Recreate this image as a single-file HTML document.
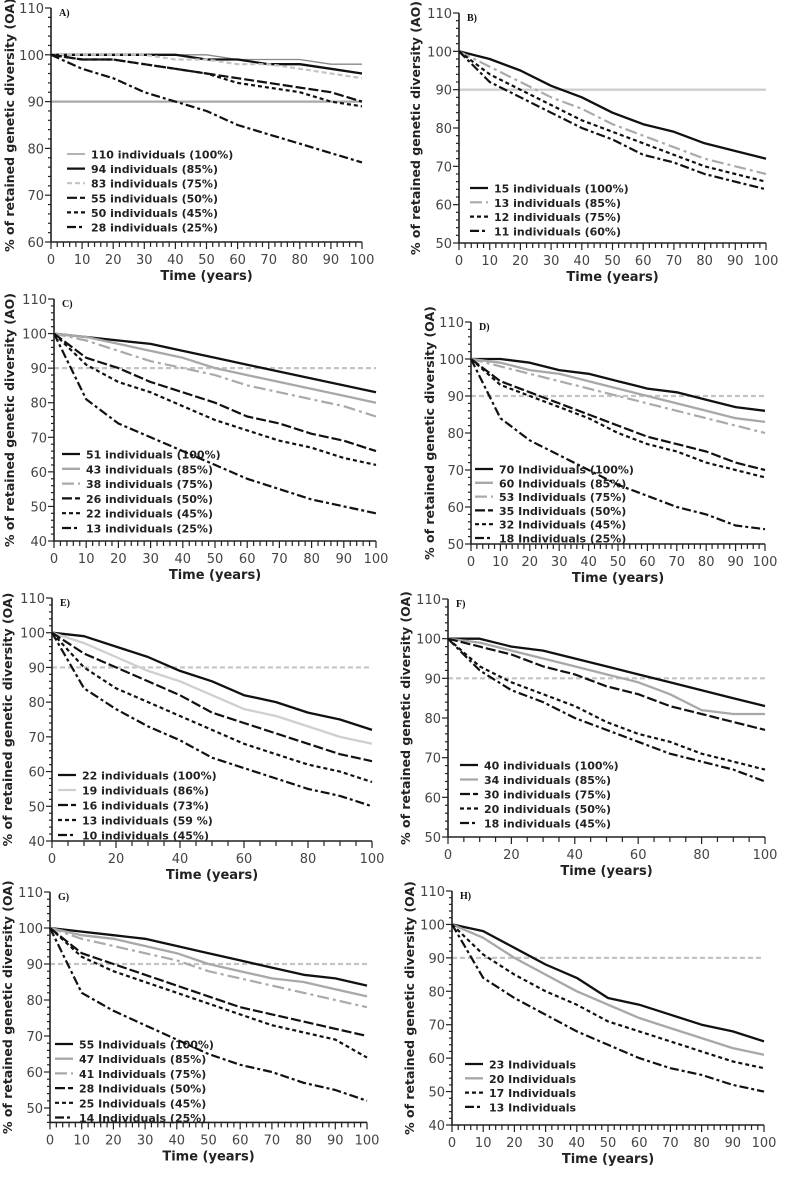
<!DOCTYPE html>
<html><head><meta charset="utf-8"><style>
html,body{margin:0;padding:0;background:#fff;}
svg{display:block;}
</style></head><body>
<svg id="fig" width="787" height="1178" viewBox="0 0 787 1178" xmlns="http://www.w3.org/2000/svg"></svg>
<script>
const years = [0,10,20,30,40,50,60,70,80,90,100];
// Panel A
const aLabels = ["110 individuals (100%)","94 individuals (85%)","83 individuals (75%)","55 individuals (50%)","50 individuals (45%)","28 individuals (25%)"];
const aS1 = [100,100,100,100,100,100,99,99,99,98,98];
const aS2 = [100,100,100,100,100,99,99,98,98,97,96];
const aS3 = [100,100,100,100,99,99,98,98,97,96,95];
const aS4 = [100,99,99,98,97,96,95,94,93,92,90];
const aS5 = [100,99,99,98,97,96,94,93,92,90,89];
const aS6 = [100,97,95,92,90,88,85,83,81,79,77];
// Panel B
const bLabels = ["15 individuals (100%)","13 individuals (85%)","12 individuals (75%)","11 individuals (60%)"];
const bS1 = [100,98,95,91,88,84,81,79,76,74,72];
const bS2 = [100,96,92,88,85,81,78,75,72,70,68];
const bS3 = [100,94,90,86,82,79,76,73,70,68,66];
const bS4 = [100,92,88,84,80,77,73,71,68,66,64];
// Panel C
const cLabels = ["51 individuals (100%)","43 individuals (85%)","38 individuals (75%)","26 individuals (50%)","22 individuals (45%)","13 individuals (25%)"];
const cS1 = [100,99,98,97,95,93,91,89,87,85,83];
const cS2 = [100,99,97,95,93,90,88,86,84,82,80];
const cS3 = [100,98,95,92,90,88,85,83,81,79,76];
const cS4 = [100,93,90,86,83,80,76,74,71,69,66];
const cS5 = [100,91,86,83,79,75,72,69,67,64,62];
const cS6 = [100,81,74,70,66,62,58,55,52,50,48];
// Panel D
const dLabels = ["70 Individuals (100%)","60 Individuals (85%)","53 Individuals (75%)","35 Individuals (50%)","32 Individuals (45%)","18 Individuals (25%)"];
const dS1 = [100,100,99,97,96,94,92,91,89,87,86];
const dS2 = [100,99,97,96,94,92,90,88,86,84,83];
const dS3 = [100,98,96,94,92,90,88,86,84,82,80];
const dS4 = [100,94,91,88,85,82,79,77,75,72,70];
const dS5 = [100,93,90,87,84,80,77,75,72,70,68];
const dS6 = [100,84,78,74,70,66,63,60,58,55,54];
// Panel E
const eLabels = ["22 individuals (100%)","19 individuals (86%)","16 individuals (73%)","13 individuals (59 %)","10 individuals (45%)"];
const eS1 = [100,99,96,93,89,86,82,80,77,75,72];
const eS2 = [100,97,93,89,86,82,78,76,73,70,68];
const eS3 = [100,94,90,86,82,77,74,71,68,65,63];
const eS4 = [100,90,84,80,76,72,68,65,62,60,57];
const eS5 = [100,84,78,73,69,64,61,58,55,53,50];
// Panel F
const fLabels = ["40 individuals (100%)","34 individuals (85%)","30 individuals (75%)","20 individuals (50%)","18 individuals (45%)"];
const fS1 = [100,100,98,97,95,93,91,89,87,85,83];
const fS2 = [100,99,97,95,93,91,89,86,82,81,81];
const fS3 = [100,98,96,93,91,88,86,83,81,79,77];
const fS4 = [100,93,89,86,83,79,76,74,71,69,67];
const fS5 = [100,92,87,84,80,77,74,71,69,67,64];
// Panel G
const gLabels = ["55 Individuals (100%)","47 Individuals (85%)","41 Individuals (75%)","28 Individuals (50%)","25 Individuals (45%)","14 Individuals (25%)"];
const gS1 = [100,99,98,97,95,93,91,89,87,86,84];
const gS2 = [100,98,97,95,93,90,88,86,85,83,81];
const gS3 = [100,97,95,93,91,88,86,84,82,80,78];
const gS4 = [100,93,90,87,84,81,78,76,74,72,70];
const gS5 = [100,92,88,85,82,79,76,73,71,69,64];
const gS6 = [100,82,77,73,69,65,62,60,57,55,52];
// Panel H
const hLabels = ["23 Individuals","20 Individuals","17 Individuals","13 Individuals"];
const hS1 = [100,98,93,88,84,78,76,73,70,68,65];
const hS2 = [100,96,90,85,80,76,72,69,66,63,61];
const hS3 = [100,91,85,80,76,71,68,65,62,59,57];
const hS4 = [100,84,78,73,68,64,60,57,55,52,50];

const STY = {
  thin:{c:'#888',w:1.3,d:''},
  solid:{c:'#111',w:2.3,d:''},
  gray:{c:'#a8a8a8',w:2.3,d:''},
  lgray:{c:'#cfcfcf',w:2.3,d:''},
  lgdash:{c:'#c4c4c4',w:2.2,d:'5,3'},
  gdash:{c:'#aaa',w:2.2,d:'12,4,3,4'},
  long:{c:'#111',w:2.2,d:'10,3'},
  short:{c:'#111',w:2.2,d:'4,3'},
  dashdot:{c:'#111',w:2.2,d:'9,3,3,3'}
};
const NS='http://www.w3.org/2000/svg';
const svg=document.getElementById('fig');
function mk(tag,attrs,parent){const e=document.createElementNS(NS,tag);for(const k in attrs)e.setAttribute(k,attrs[k]);(parent||svg).appendChild(e);return e;}

function panel(p){
  const g=mk('g',{});
  
  
  const yTopPx=p.yTop, unit=(p.yRef-p.yTop)/(110-p.refVal);
  const sy=v=>yTopPx+(110-v)*unit;
  const sx=v=>p.x0+(p.x1-p.x0)*v/100;
  const yBot=sy(p.ymin);
  const h=STY[p.hline];
  const hl=mk('line',{x1:sx(0),x2:sx(100),y1:sy(90),y2:sy(90),stroke:h.c,'stroke-width':h.w,'stroke-dasharray':h.d},g);
  
  
  const ax=mk('path',{d:`M${p.x0},${sy(110)}V${yBot}H${p.x1}`,stroke:'#222','stroke-width':1.6,fill:'none'},g);
  
  
  for(let v=p.ymin;v<=110;v+=2){
    const major=v%10===0;
    mk('line',{x1:p.x0,x2:p.x0-(major?6:3),y1:sy(v),y2:sy(v),stroke:'#222','stroke-width':1.2},g);
    if(major){const t=mk('text',{x:p.x0-7,y:sy(v)+5,'text-anchor':'end','font-family':'DejaVu Sans, sans-serif','font-size':13,fill:'#444'},g);t.textContent=v;
      
      }
  }
  for(let v=0;v<=100;v+=p.xMinor){
    const major=v%p.xStep===0;
    mk('line',{x1:sx(v),x2:sx(v),y1:yBot,y2:yBot+(major?7:5),stroke:'#222','stroke-width':1.2},g);
    if(major){const t=mk('text',{x:sx(v),y:yBot+22,'text-anchor':'middle','font-family':'DejaVu Sans, sans-serif','font-size':13,fill:'#444'},g);t.textContent=v;
      
      }
  }
  const xt=mk('text',{x:(p.x0+p.x1)/2,y:yBot+38,'text-anchor':'middle','font-family':'DejaVu Sans, sans-serif','font-weight':'bold','font-size':13,fill:'#222'},g);
  xt.textContent='Time (years)';
  
  
  const yc=(sy(110)+yBot)/2;
  const yt=mk('text',{x:0,y:0,transform:`translate(${p.yl},${yc}) rotate(-90)`,'text-anchor':'middle','font-family':'DejaVu Sans, sans-serif','font-weight':'bold','font-size':12.5,fill:'#222'},g);
  yt.textContent='% of retained genetic diversity ('+p.unit+')';
  
  
  const lt=mk('text',{x:p.x0+8,y:sy(110)+8,'font-family':'Liberation Serif, serif','font-weight':'bold','font-size':10,fill:'#111'},g);
  lt.textContent=p.id+')';
  
  
  p.series.forEach((s,i)=>{
    const st=STY[p.styles[i]];
    const d=years.map((x,j)=>(j?'L':'M')+sx(x).toFixed(1)+','+sy(s[j]).toFixed(1)).join('');
    const path=mk('path',{d:d,fill:'none',stroke:st.c,'stroke-width':st.w,'stroke-dasharray':st.d,'stroke-linejoin':'round'},g);
    
    
    const ly=p.lgY+i*p.lgStep;
    const ll=mk('line',{x1:p.lgX,x2:p.lgX+18,y1:ly,y2:ly,stroke:st.c,'stroke-width':st.w,'stroke-dasharray':st.d},g);
    
    
    const tx=mk('text',{x:p.lgX+24,y:ly+4.5,'font-family':'DejaVu Sans, sans-serif','font-weight':'bold','font-size':11,fill:'#222'},g);
    tx.textContent=p.labels[i];
    
    
  });
}

panel({id:'A',unit:'OA',x0:51,x1:362,yTop:8,yRef:242,refVal:60,ymin:60,xStep:10,xMinor:2,hline:'gray',yl:14,
  series:[aS1,aS2,aS3,aS4,aS5,aS6],labels:aLabels,styles:['thin','solid','lgdash','long','short','dashdot'],lgX:67,lgY:154,lgStep:14.6});
panel({id:'B',unit:'AO',x0:459,x1:766,yTop:13,yRef:243,refVal:50,ymin:50,xStep:10,xMinor:2,hline:'lgray',yl:420,
  series:[bS1,bS2,bS3,bS4],labels:bLabels,styles:['solid','gdash','short','dashdot'],lgX:470,lgY:188,lgStep:14.3});
panel({id:'C',unit:'AO',x0:54,x1:376,yTop:299,yRef:541,refVal:40,ymin:40,xStep:10,xMinor:2,hline:'lgdash',yl:14,
  series:[cS1,cS2,cS3,cS4,cS5,cS6],labels:cLabels,styles:['solid','gray','gdash','long','short','dashdot'],lgX:62,lgY:454,lgStep:14.8});
panel({id:'D',unit:'OA',x0:471,x1:765,yTop:322,yRef:544,refVal:50,ymin:50,xStep:10,xMinor:2,hline:'lgdash',yl:434,
  series:[dS1,dS2,dS3,dS4,dS5,dS6],labels:dLabels,styles:['solid','gray','gdash','long','short','dashdot'],lgX:475,lgY:469,lgStep:13.8});
panel({id:'E',unit:'OA',x0:52,x1:372,yTop:598,yRef:841,refVal:40,ymin:40,xStep:20,xMinor:5,hline:'lgdash',yl:12,
  series:[eS1,eS2,eS3,eS4,eS5],labels:eLabels,styles:['solid','lgray','long','short','dashdot'],lgX:58,lgY:775,lgStep:15});
panel({id:'F',unit:'OA',x0:448,x1:765,yTop:599,yRef:837,refVal:50,ymin:50,xStep:20,xMinor:5,hline:'lgdash',yl:410,
  series:[fS1,fS2,fS3,fS4,fS5],labels:fLabels,styles:['solid','gray','long','short','dashdot'],lgX:460,lgY:765,lgStep:14.5});
panel({id:'G',unit:'OA',x0:50,x1:367,yTop:892,yRef:1108,refVal:50,ymin:46,xStep:10,xMinor:2,hline:'lgdash',yl:12,
  series:[gS1,gS2,gS3,gS4,gS5,gS6],labels:gLabels,styles:['solid','gray','gdash','long','short','dashdot'],lgX:55,lgY:1044,lgStep:14.7});
panel({id:'H',unit:'OA',x0:452,x1:764,yTop:891,yRef:1125,refVal:40,ymin:40,xStep:10,xMinor:2,hline:'lgdash',yl:414,
  series:[hS1,hS2,hS3,hS4],labels:hLabels,styles:['solid','gray','short','dashdot'],lgX:465,lgY:1064,lgStep:14.3});
</script>
</body></html>
